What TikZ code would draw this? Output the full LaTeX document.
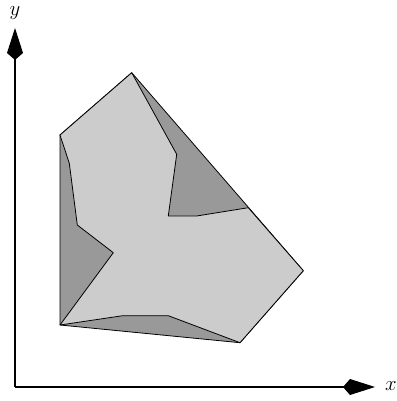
\documentclass[tikz,border=0pt]{standalone}
\usepackage{tikz}
\usetikzlibrary{arrows.meta}
\definecolor{hullgray}{HTML}{999999}
\definecolor{polygray}{HTML}{CCCCCC}

\begin{document}
\begin{tikzpicture}[x=1pt,y=1pt]
\useasboundingbox (-15,-14) rectangle (381,387);
% axes end points
\coordinate (O) at (0,0);
\coordinate (X) at (360,0);
\coordinate (Y) at (0,359);
% polygon vertices
\foreach \n/\x/\y in {1/116.7/314.3, 2/161.7/232.7, 3/153.3/171, 4/181.7/171,
  5/233.3/179.3, 6/288.3/116.3, 7/225/44.3, 8/153.3/71.3, 9/107.7/71.3,
  10/45/62, 11/98.3/134.3, 12/62.3/162, 13/54.3/223.7, 14/45/252}{
  \coordinate (p\n) at (\x,\y);
}
\filldraw[fill=hullgray, draw=black, line width=0.8pt, line join=round]
  (p1) -- (p6) -- (p7) -- (p10) -- (p14) -- cycle;
\filldraw[fill=polygray, draw=black, line width=0.8pt, line join=round]
  (p1) -- (p2) -- (p3) -- (p4) -- (p5) -- (p6) -- (p7) -- (p8) -- (p9)
  -- (p10) -- (p11) -- (p12) -- (p13) -- (p14) -- cycle;
\draw[line width=1.2pt, -{Kite[length=32pt,width=16pt,inset=7pt]}] (O) -- (X);
\draw[line width=1.2pt, -{Kite[length=32pt,width=16pt,inset=7pt]}] (O) -- (Y);
\node[font=\fontsize{22}{26}\selectfont, inner sep=0pt] (xlab) at (376,1) {$x$};
\node[font=\fontsize{22}{26}\selectfont, inner sep=0pt] (ylab) at (0,374) {$y$};
\end{tikzpicture}
\end{document}
